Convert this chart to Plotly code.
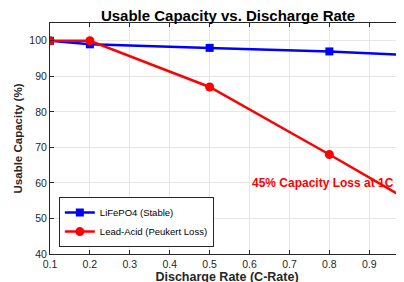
import plotly.graph_objects as go

rate = [0.1, 0.2, 0.5, 0.8, 1.0]
lifepo4 = [100, 99, 98, 97, 96]
lead_acid = [100, 100, 87, 68, 55]
x_ticks = [0.1, 0.2, 0.3, 0.4, 0.5, 0.6, 0.7, 0.8, 0.9, 1.0]
y_ticks = [40, 50, 60, 70, 80, 90, 100]

fig = go.Figure()
fig.add_trace(go.Scatter(x=rate, y=lifepo4, mode="lines+markers", name="LiFePO4 (Stable)",
                         line=dict(color="#0000ff", width=2.5),
                         marker=dict(symbol="square", size=8, color="#0000ff")))
fig.add_trace(go.Scatter(x=rate, y=lead_acid, mode="lines+markers", name="Lead-Acid (Peukert Loss)",
                         line=dict(color="#ff0000", width=2.5),
                         marker=dict(symbol="circle", size=9, color="#ff0000")))

fig.add_annotation(x=0.6, y=60, text="<b>45% Capacity Loss at 1C</b>", showarrow=False,
                   xanchor="left", yanchor="middle", font=dict(color="#ff0000", size=12))

fig.update_layout(
    width=404, height=282,
    margin=dict(l=42, r=8, t=15, b=36, autoexpand=False),
    paper_bgcolor="white", plot_bgcolor="white",
    font=dict(family="Liberation Sans, Arial, sans-serif", color="#262626"),
    title=dict(text="<b>Usable Capacity vs. Discharge Rate</b>", x=0.503, xref="paper",
               xanchor="center", y=0.972, yanchor="middle", font=dict(size=15, color="#000000")),
    showlegend=True,
    legend=dict(x=0.025, y=0.03, xanchor="left", yanchor="bottom",
                bgcolor="white", bordercolor="#262626", borderwidth=1,
                font=dict(size=9.5, color="#000000"), tracegroupgap=0,
                itemwidth=30),
)
fig.update_xaxes(range=[0.1, 0.987], tickvals=x_ticks, ticktext=[f"{v:.1f}" for v in x_ticks],
                 automargin=False,
                 showgrid=True, gridcolor="#e6e6e6", gridwidth=1,
                 showline=True, linecolor="#262626", linewidth=1, mirror="ticks",
                 ticks="inside", ticklen=4, tickcolor="#262626",
                 tickfont=dict(size=10.5), zeroline=False,
                 title=dict(text="<b>Discharge Rate (C-Rate)</b>", font=dict(size=12.5, color="#262626"), standoff=0))
fig.update_yaxes(range=[40, 105], tickvals=y_ticks,
                 automargin=False,
                 showgrid=True, gridcolor="#e6e6e6", gridwidth=1,
                 showline=True, linecolor="#262626", linewidth=1, mirror=False,
                 ticks="inside", ticklen=4, tickcolor="#262626",
                 tickfont=dict(size=10.5), zeroline=False,
                 title=dict(text="<b>Usable Capacity (%)</b>", font=dict(size=11.5, color="#262626"), standoff=4))

fig.write_html("out.html")
